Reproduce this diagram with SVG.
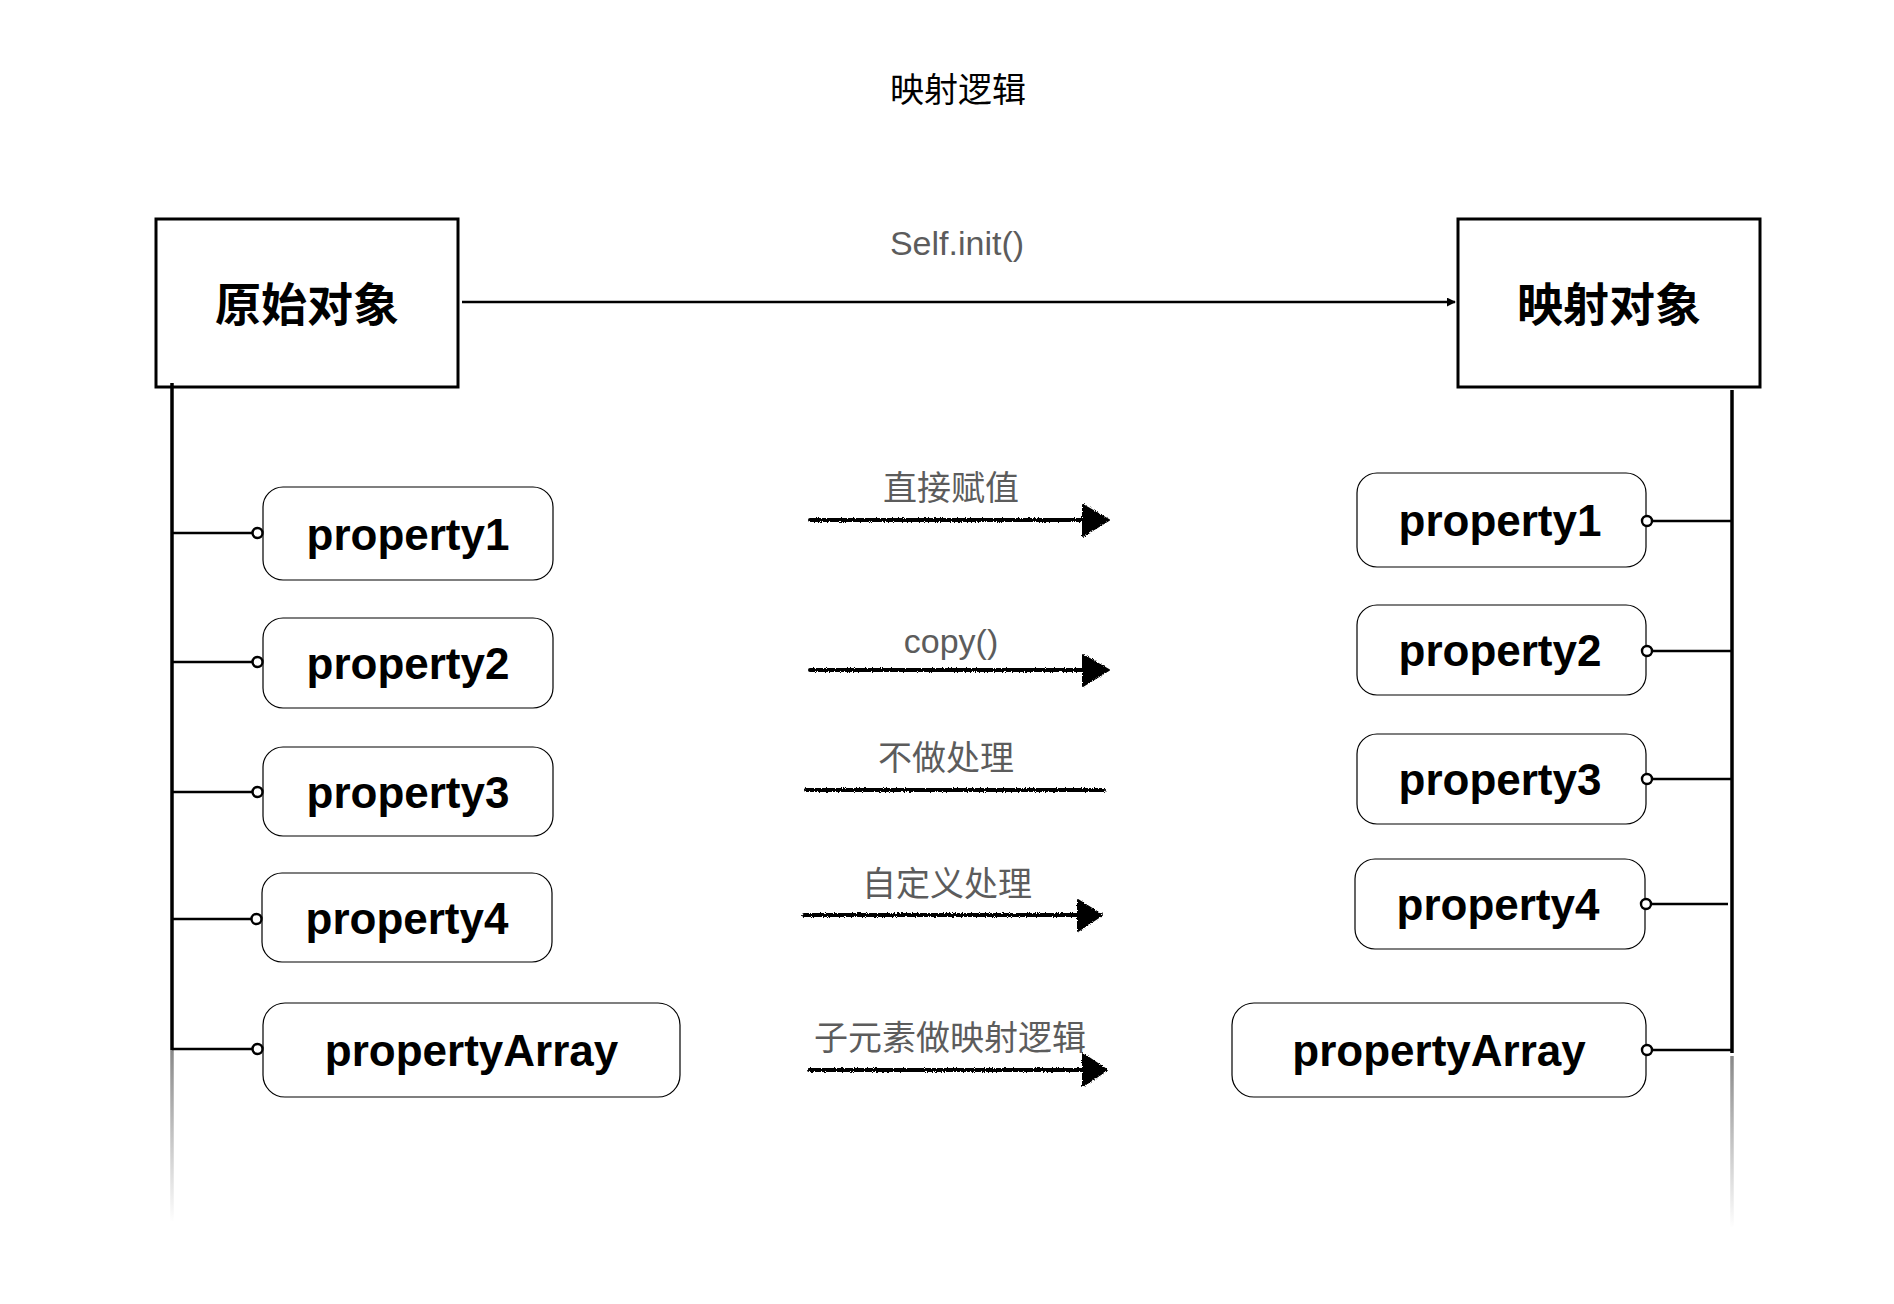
<svg xmlns="http://www.w3.org/2000/svg" width="1894" height="1304" viewBox="0 0 1894 1304">
<style>
.obj{fill:#fff;stroke:#000;stroke-width:3}
.objt{font-family:"Liberation Sans","Noto Sans CJK SC",sans-serif;font-weight:bold;font-size:46px;fill:#000;text-anchor:middle;dominant-baseline:central}
.prop{fill:#fff;stroke:#000;stroke-width:1.2}
.propt{font-family:"Liberation Sans",Arial,sans-serif;font-weight:bold;font-size:44px;fill:#000;text-anchor:middle}
.lbl{font-family:"Liberation Sans","Noto Sans CJK SC",sans-serif;font-size:34px;fill:#5c5c5c;text-anchor:middle}
.cjk{dominant-baseline:central}
.conn{stroke:#000;stroke-width:2.5;fill:none}
.dot{fill:#fff;stroke:#000;stroke-width:2.4}
.spine{stroke:#000;stroke-width:3.5;fill:none}
.sk{stroke:#000;stroke-width:4;fill:none;stroke-linecap:round}
.skh{fill:#000;stroke:#000;stroke-width:2;stroke-linejoin:round}
</style>
<defs>
<marker id="arr" viewBox="0 0 10 10" refX="9" refY="5" markerWidth="9" markerHeight="9" orient="auto" markerUnits="userSpaceOnUse">
<path d="M0,0 L10,5 L0,10 z" fill="#000"/>
</marker>
<linearGradient id="fadeL" x1="0" y1="0" x2="0" y2="1">
<stop offset="0" stop-color="#888"/>
<stop offset="1" stop-color="#fff"/>
</linearGradient>
<filter id="rough" filterUnits="userSpaceOnUse" x="780" y="450" width="380" height="680">
<feTurbulence type="fractalNoise" baseFrequency="0.9" numOctaves="2" seed="4" result="n"/>
<feDisplacementMap in="SourceGraphic" in2="n" scale="3.5" xChannelSelector="R" yChannelSelector="G"/>
</filter>
</defs>

<rect width="1894" height="1304" fill="#fff"/>

<text x="958" y="90" font-family="'Liberation Sans','Noto Sans CJK SC',sans-serif" font-size="34" fill="#000" text-anchor="middle" dominant-baseline="central">映射逻辑</text>

<g id="src">
<rect class="obj" x="156" y="219" width="302" height="168"/>
<text class="objt" x="307" y="305">原始对象</text>
</g>
<g id="dst">
<rect class="obj" x="1458" y="219" width="302" height="168"/>
<text class="objt" x="1609" y="305">映射对象</text>
</g>

<g id="l-p1"><rect class="prop" x="263" y="487" width="290" height="93" rx="20"/><text class="propt" x="408" y="550">property1</text></g>
<g id="l-p2"><rect class="prop" x="263" y="618" width="290" height="90" rx="20"/><text class="propt" x="408" y="679">property2</text></g>
<g id="l-p3"><rect class="prop" x="263" y="747" width="290" height="89" rx="20"/><text class="propt" x="408" y="808">property3</text></g>
<g id="l-p4"><rect class="prop" x="262" y="873" width="290" height="89" rx="20"/><text class="propt" x="407" y="934">property4</text></g>
<g id="l-pa"><rect class="prop" x="263" y="1003" width="417" height="94" rx="22"/><text class="propt" x="471.5" y="1066">propertyArray</text></g>

<g id="r-p1"><rect class="prop" x="1357" y="473" width="289" height="94" rx="20"/><text class="propt" x="1500" y="536">property1</text></g>
<g id="r-p2"><rect class="prop" x="1357" y="605" width="289" height="90" rx="20"/><text class="propt" x="1500" y="666">property2</text></g>
<g id="r-p3"><rect class="prop" x="1357" y="734" width="289" height="90" rx="20"/><text class="propt" x="1500" y="795">property3</text></g>
<g id="r-p4"><rect class="prop" x="1355" y="859" width="290" height="90" rx="20"/><text class="propt" x="1498" y="920">property4</text></g>
<g id="r-pa"><rect class="prop" x="1232" y="1003" width="414" height="94" rx="22"/><text class="propt" x="1439" y="1066">propertyArray</text></g>

<g id="connectors">
<line class="conn" x1="462" y1="302" x2="1455" y2="302" stroke-width="2.5" marker-end="url(#arr)"/>
<text class="lbl" x="957" y="255">Self.init()</text>

<line class="spine" x1="172" y1="383" x2="172" y2="1050"/>
<rect x="170.25" y="1050" width="3.5" height="172" fill="url(#fadeL)"/>
<line class="spine" x1="1732" y1="390" x2="1732" y2="1053"/>
<rect x="1730.25" y="1056" width="3.5" height="172" fill="url(#fadeL)"/>

<line class="conn" x1="172" y1="533" x2="252" y2="533"/><circle class="dot" cx="257.5" cy="533" r="5"/>
<line class="conn" x1="172" y1="662" x2="252" y2="662"/><circle class="dot" cx="257.5" cy="662" r="5"/>
<line class="conn" x1="172" y1="792" x2="252" y2="792"/><circle class="dot" cx="257.5" cy="792" r="5"/>
<line class="conn" x1="172" y1="919" x2="251" y2="919"/><circle class="dot" cx="256.5" cy="919" r="5"/>
<line class="conn" x1="172" y1="1049" x2="252" y2="1049"/><circle class="dot" cx="257.5" cy="1049" r="5"/>

<line class="conn" x1="1652" y1="521" x2="1732" y2="521"/><circle class="dot" cx="1647" cy="521" r="5"/>
<line class="conn" x1="1652" y1="651" x2="1732" y2="651"/><circle class="dot" cx="1647" cy="651" r="5"/>
<line class="conn" x1="1652" y1="779" x2="1732" y2="779"/><circle class="dot" cx="1647" cy="779" r="5"/>
<line class="conn" x1="1651" y1="904" x2="1728" y2="904"/><circle class="dot" cx="1646" cy="904" r="5"/>
<line class="conn" x1="1652" y1="1050" x2="1732" y2="1050"/><circle class="dot" cx="1647" cy="1050" r="5"/>

<g filter="url(#rough)">
<path class="sk" d="M810,520 L1090,520"/>
<path class="skh" d="M1083,505 L1109,520 L1083,536 Z"/>
<path class="sk" d="M810,670 L1090,670"/>
<path class="skh" d="M1083,655 L1109,670 L1083,686 Z"/>
<path class="sk" d="M806,790 L1104,790"/>
<path class="sk" d="M804,915 L1085,915"/>
<path class="skh" d="M1078,900 L1102,915 L1078,931 Z"/>
<path class="sk" d="M809,1070 L1090,1070"/>
<path class="skh" d="M1083,1054 L1107,1070 L1083,1086 Z"/>
</g>
<text class="lbl cjk" x="951" y="488">直接赋值</text>
<text class="lbl" x="951" y="653">copy()</text>
<text class="lbl cjk" x="946" y="758">不做处理</text>
<text class="lbl cjk" x="947" y="884">自定义处理</text>
<text class="lbl cjk" x="950" y="1038">子元素做映射逻辑</text>
</g>
</svg>
